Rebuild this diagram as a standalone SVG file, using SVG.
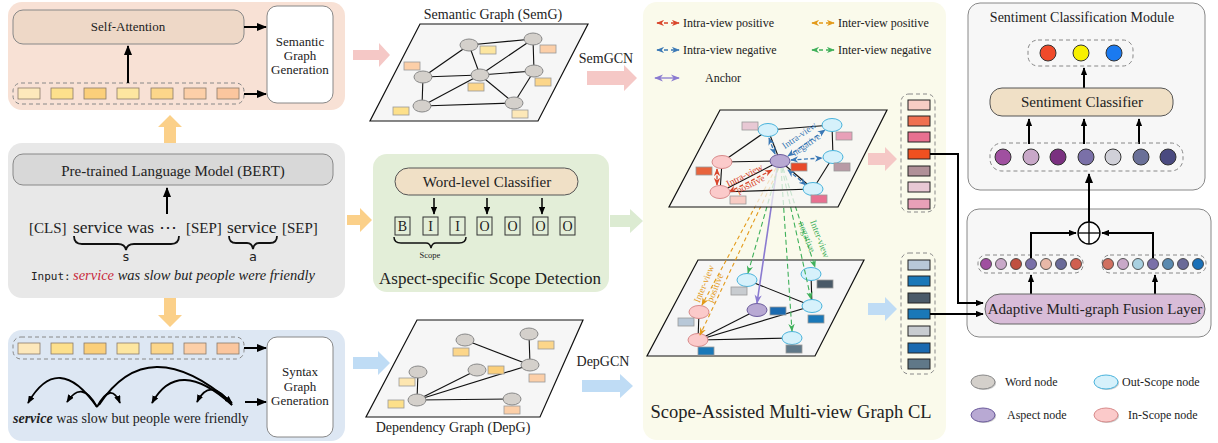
<svg xmlns="http://www.w3.org/2000/svg" width="1218" height="443" viewBox="0 0 1218 443">
<style>
text{font-family:"Liberation Serif","Times New Roman",serif;fill:#222}
.mono{font-family:"DejaVu Sans Mono","Liberation Mono",monospace}
.box{stroke:#888;stroke-width:1}
.tok{stroke:#8a7a6a;stroke-width:0.8}
.dash{fill:none;stroke:#888;stroke-width:1;stroke-dasharray:4 3}
.blk{stroke:#000;stroke-width:2;fill:none}
.edge{stroke:#111;stroke-width:1.1}
.wn{fill:#d4d0cb;stroke:#888;stroke-width:1}
.on{fill:#d6f1fb;stroke:#49b3dc;stroke-width:1}
.an{fill:#b8a9d3;stroke:#6b5b9c;stroke-width:1}
.in{fill:#fbcaca;stroke:#d88a8a;stroke-width:1}
.r{stroke:#999;stroke-width:0.8}
.vc{stroke:#222;stroke-width:1}
.plane{fill:#f6f6f6;stroke:#111;stroke-width:1.2}
</style>
<defs>
<marker id="ab" viewBox="0 0 10 8" refX="9" refY="4" markerWidth="10" markerHeight="8" markerUnits="userSpaceOnUse" orient="auto"><path d="M0,0 L10,4 L0,8 z" fill="#000"/></marker>
<marker id="abs" viewBox="0 0 10 8" refX="9" refY="4" markerWidth="8" markerHeight="6.5" markerUnits="userSpaceOnUse" orient="auto"><path d="M0,0 L10,4 L0,8 z" fill="#000"/></marker>
<marker id="mr" viewBox="0 0 10 8" refX="9" refY="4" markerWidth="8" markerHeight="7" markerUnits="userSpaceOnUse" orient="auto-start-reverse"><path d="M0,0 L10,4 L0,8 L3,4 z" fill="#d9452b"/></marker>
<marker id="mo" viewBox="0 0 10 8" refX="9" refY="4" markerWidth="8" markerHeight="7" markerUnits="userSpaceOnUse" orient="auto-start-reverse"><path d="M0,0 L10,4 L0,8 L3,4 z" fill="#e39a1a"/></marker>
<marker id="mb" viewBox="0 0 10 8" refX="9" refY="4" markerWidth="8" markerHeight="7" markerUnits="userSpaceOnUse" orient="auto-start-reverse"><path d="M0,0 L10,4 L0,8 L3,4 z" fill="#3a78b5"/></marker>
<marker id="mg" viewBox="0 0 10 8" refX="9" refY="4" markerWidth="8" markerHeight="7" markerUnits="userSpaceOnUse" orient="auto-start-reverse"><path d="M0,0 L10,4 L0,8 L3,4 z" fill="#3fb05a"/></marker>
<marker id="mp" viewBox="0 0 10 8" refX="9" refY="4" markerWidth="9" markerHeight="8" markerUnits="userSpaceOnUse" orient="auto-start-reverse"><path d="M0,0 L10,4 L0,8 L3,4 z" fill="#8a7ad0"/></marker>
</defs>

<!-- Panel 1: semantic -->
<g id="semantic-panel">
<rect x="8" y="2" width="337" height="108" rx="14" fill="#f8e1d5"/>
<rect x="13" y="10" width="231" height="34" rx="10" fill="#eed8c7" class="box"/>
<text x="128" y="31" font-size="13" text-anchor="middle">Self-Attention</text>
<rect x="267" y="6" width="66" height="97" rx="10" fill="#fff" class="box"/>
<text x="300" y="46" font-size="13" text-anchor="middle">Semantic</text>
<text x="300" y="60" font-size="13" text-anchor="middle">Graph</text>
<text x="300" y="74" font-size="13" text-anchor="middle">Generation</text>
<rect x="13" y="83" width="231" height="21" rx="8" class="dash"/>
<rect x="18" y="88" width="22" height="11" fill="#fde8bb" class="tok"/>
<rect x="51" y="88" width="22" height="11" fill="#fde08c" class="tok"/>
<rect x="84" y="88" width="22" height="11" fill="#fbcf7a" class="tok"/>
<rect x="117" y="88" width="22" height="11" fill="#fde6a0" class="tok"/>
<rect x="151" y="88" width="22" height="11" fill="#fcd68a" class="tok"/>
<rect x="184" y="88" width="22" height="11" fill="#fccfa8" class="tok"/>
<rect x="217" y="88" width="22" height="11" fill="#fbc69e" class="tok"/>
<line x1="128" y1="83" x2="128" y2="46" class="blk" marker-end="url(#ab)"/>
<line x1="244" y1="27" x2="266" y2="27" class="blk" marker-end="url(#ab)"/>
<line x1="244" y1="94" x2="266" y2="94" class="blk" marker-end="url(#ab)"/>
</g>

<!-- Panel 2: BERT -->
<g id="bert-panel">
<rect x="8" y="143" width="337" height="155" rx="14" fill="#e8e8e8"/>
<rect x="13" y="154" width="320" height="31" rx="10" fill="#d8d8d8" class="box"/>
<text x="173" y="176" font-size="15" text-anchor="middle">Pre-trained Language Model (BERT)</text>
<line x1="167" y1="214" x2="167" y2="188" class="blk" marker-end="url(#ab)"/>
<text x="29" y="233" font-size="15">[CLS]</text>
<text x="73" y="233" font-size="17.5">service was ⋯</text>
<text x="186" y="233" font-size="15">[SEP]</text>
<text x="227" y="233" font-size="17.5">service</text>
<text x="282" y="233" font-size="15">[SEP]</text>
<path d="M74,236 Q74,244 82,244 L118,244 Q125,244 126,250 Q127,244 134,244 L171,244 Q179,244 179,236" fill="none" stroke="#111" stroke-width="1.8"/>
<path d="M229,236 Q229,243 236,243 L247,243 Q252,243 253,249 Q254,243 259,243 L270,243 Q277,243 277,236" fill="none" stroke="#111" stroke-width="1.8"/>
<text x="126" y="261" font-size="13" text-anchor="middle" class="mono">s</text>
<text x="253" y="261" font-size="13" text-anchor="middle" class="mono">a</text>
<text x="31" y="280" font-size="11" class="mono">Input:</text>
<text x="73" y="280" font-size="14.5" font-style="italic"><tspan fill="#c8283c" style="fill:#c8283c">service</tspan> was slow but people were friendly</text>
</g>

<!-- Panel 3: syntax -->
<g id="syntax-panel">
<rect x="8" y="330" width="337" height="111" rx="14" fill="#dde7f3"/>
<rect x="13" y="337" width="231" height="22" rx="8" class="dash"/>
<rect x="18" y="343" width="22" height="11" fill="#fde8bb" class="tok"/>
<rect x="51" y="343" width="22" height="11" fill="#fde08c" class="tok"/>
<rect x="84" y="343" width="22" height="11" fill="#fbcf7a" class="tok"/>
<rect x="117" y="343" width="22" height="11" fill="#fde6a0" class="tok"/>
<rect x="151" y="343" width="22" height="11" fill="#fcd68a" class="tok"/>
<rect x="184" y="343" width="22" height="11" fill="#fccfa8" class="tok"/>
<rect x="217" y="343" width="22" height="11" fill="#fbc69e" class="tok"/>
<rect x="267" y="337" width="66" height="100" rx="10" fill="#fff" class="box"/>
<text x="300" y="376" font-size="13" text-anchor="middle">Syntax</text>
<text x="300" y="391" font-size="13" text-anchor="middle">Graph</text>
<text x="300" y="405" font-size="13" text-anchor="middle">Generation</text>
<line x1="244" y1="348" x2="266" y2="348" class="blk" marker-end="url(#ab)"/>
<line x1="245" y1="402" x2="266" y2="402" class="blk" marker-end="url(#ab)"/>
<text x="13" y="423" font-size="14"><tspan font-weight="bold" font-style="italic">service</tspan> was slow but people were friendly</text>
<g fill="none" stroke="#000" stroke-width="1.8">
<path d="M97,407 Q58,351 28,403" marker-end="url(#abs)"/>
<path d="M97,407 Q82,379 67,402" marker-end="url(#abs)"/>
<path d="M97,407 Q111,381 120,403" marker-end="url(#abs)"/>
<path d="M99,405 Q148,330 232,403" marker-end="url(#abs)"/>
<path d="M232,405 Q178,356 152,403" marker-end="url(#abs)"/>
<path d="M232,405 Q210,376 197,402" marker-end="url(#abs)"/>
</g>
</g>

<!-- Semantic graph -->
<g id="semantic-graph">
<text x="493" y="19" font-size="14" text-anchor="middle">Semantic Graph (SemG)</text>
<polygon points="420,24 588,24 538,121 370,121" class="plane"/>
<g class="edge">
<line x1="469" y1="45" x2="533" y2="39"/><line x1="469" y1="45" x2="423" y2="77"/><line x1="469" y1="45" x2="480" y2="75"/>
<line x1="533" y1="39" x2="480" y2="75"/><line x1="533" y1="39" x2="534" y2="71"/><line x1="423" y1="77" x2="480" y2="75"/>
<line x1="423" y1="77" x2="422" y2="106"/><line x1="480" y1="75" x2="534" y2="71"/><line x1="480" y1="75" x2="422" y2="106"/>
<line x1="480" y1="75" x2="514" y2="103"/><line x1="534" y1="71" x2="514" y2="103"/><line x1="422" y1="106" x2="514" y2="103"/>
</g>
<ellipse cx="469" cy="45" rx="9" ry="6" class="wn"/><ellipse cx="533" cy="39" rx="9" ry="6" class="wn"/>
<ellipse cx="423" cy="77" rx="9" ry="6" class="wn"/><ellipse cx="480" cy="75" rx="9" ry="6" class="wn"/>
<ellipse cx="534" cy="71" rx="9" ry="6" class="wn"/><ellipse cx="422" cy="106" rx="9" ry="6" class="wn"/>
<ellipse cx="514" cy="103" rx="9" ry="6" class="wn"/>
<rect x="480" y="46" width="16" height="8" fill="#fde6a0" class="r"/>
<rect x="540" y="45" width="16" height="8" fill="#fccfa8" class="r"/>
<rect x="404" y="62" width="16" height="8" fill="#fccfa8" class="r"/>
<rect x="535" y="78" width="16" height="8" fill="#fcd68a" class="r"/>
<rect x="468" y="83" width="16" height="8" fill="#fcd68a" class="r"/>
<rect x="393" y="107" width="16" height="8" fill="#fde08a" class="r"/>
<rect x="512" y="110" width="16" height="8" fill="#fde8b8" class="r"/>
<text x="606" y="63" font-size="14" text-anchor="middle">SemGCN</text>
</g>

<!-- Scope detection -->
<g id="scope-panel">
<rect x="373" y="154" width="236" height="138" rx="14" fill="#e3eed8"/>
<rect x="395" y="168" width="183" height="27" rx="13.5" fill="#f0e0c6" stroke="#555" stroke-width="1"/>
<text x="487" y="187" font-size="15" text-anchor="middle">Word-level Classifier</text>
<line x1="434" y1="198" x2="434" y2="214" stroke="#000" stroke-width="1.5" marker-end="url(#abs)"/>
<line x1="487" y1="198" x2="487" y2="214" stroke="#000" stroke-width="1.5" marker-end="url(#abs)"/>
<line x1="542" y1="198" x2="542" y2="214" stroke="#000" stroke-width="1.5" marker-end="url(#abs)"/>
<g fill="none" stroke="#333" stroke-width="1">
<rect x="395" y="217" width="15" height="18"/><rect x="423" y="217" width="15" height="18"/>
<rect x="450" y="217" width="15" height="18"/><rect x="477" y="217" width="15" height="18"/>
<rect x="505" y="217" width="15" height="18"/><rect x="533" y="217" width="15" height="18"/>
<rect x="560" y="217" width="15" height="18"/>
</g>
<g font-size="14" text-anchor="middle">
<text x="402.5" y="231">B</text><text x="430.5" y="231">I</text><text x="457.5" y="231">I</text>
<text x="484.5" y="231">O</text><text x="512.5" y="231">O</text><text x="540.5" y="231">O</text><text x="567.5" y="231">O</text>
</g>
<path d="M394,237 Q394,243 401,243 L426,243 Q430,243 431,248 Q432,243 436,243 L459,243 Q466,243 466,237" fill="none" stroke="#111" stroke-width="1.5"/>
<text x="430" y="258" font-size="8.5" text-anchor="middle">Scope</text>
<text x="490" y="284" font-size="17" text-anchor="middle">Aspect-specific Scope Detection</text>
</g>

<!-- Dependency graph -->
<g id="dependency-graph">
<polygon points="417,320 583,320 540,417 366,417" class="plane"/>
<g class="edge">
<line x1="465" y1="340" x2="530" y2="365"/><line x1="529" y1="334" x2="530" y2="365"/>
<line x1="418" y1="372" x2="417" y2="400"/><line x1="417" y1="400" x2="477" y2="370"/>
<line x1="417" y1="400" x2="530" y2="365"/><line x1="417" y1="400" x2="512" y2="399"/>
</g>
<ellipse cx="465" cy="340" rx="9" ry="6" class="wn"/><ellipse cx="529" cy="334" rx="9" ry="6" class="wn"/>
<ellipse cx="418" cy="372" rx="9" ry="6" class="wn"/><ellipse cx="477" cy="370" rx="9" ry="6" class="wn"/>
<ellipse cx="530" cy="365" rx="9" ry="6" class="wn"/><ellipse cx="417" cy="400" rx="9" ry="6" class="wn"/>
<ellipse cx="512" cy="399" rx="9" ry="6" class="wn"/>
<rect x="453" y="348" width="16" height="8" fill="#fcd68a" class="r"/>
<rect x="538" y="341" width="16" height="8" fill="#fcd68a" class="r"/>
<rect x="399" y="378" width="16" height="8" fill="#fde6b0" class="r"/>
<rect x="488" y="366" width="16" height="8" fill="#fbcf7a" class="r"/>
<rect x="529" y="374" width="16" height="8" fill="#fccfa8" class="r"/>
<rect x="388" y="400" width="16" height="8" fill="#fde08a" class="r"/>
<rect x="504" y="406" width="16" height="8" fill="#fccfa8" class="r"/>
<text x="453" y="432" font-size="14" text-anchor="middle">Dependency Graph (DepG)</text>
<text x="603" y="366" font-size="14" text-anchor="middle">DepGCN</text>
</g>

<!-- CL panel -->
<g id="cl-panel">
<rect x="643" y="2" width="303" height="438" rx="14" fill="#fafaeb"/>
<g font-size="12">
<line x1="657" y1="23" x2="679" y2="23" stroke="#d9452b" stroke-width="1.3" stroke-dasharray="4 3" marker-start="url(#mr)" marker-end="url(#mr)"/>
<text x="683" y="27">Intra-view positive</text>
<line x1="812" y1="23" x2="834" y2="23" stroke="#e39a1a" stroke-width="1.3" stroke-dasharray="4 3" marker-start="url(#mo)" marker-end="url(#mo)"/>
<text x="838" y="27">Inter-view positive</text>
<line x1="657" y1="50" x2="679" y2="50" stroke="#3a78b5" stroke-width="1.3" stroke-dasharray="4 3" marker-start="url(#mb)" marker-end="url(#mb)"/>
<text x="683" y="54">Intra-view negative</text>
<line x1="812" y1="50" x2="834" y2="50" stroke="#3fb05a" stroke-width="1.3" stroke-dasharray="4 3" marker-start="url(#mg)" marker-end="url(#mg)"/>
<text x="838" y="54">Inter-view negative</text>
<line x1="655" y1="78" x2="679" y2="78" stroke="#8a7ad0" stroke-width="1.3" marker-start="url(#mp)" marker-end="url(#mp)"/>
<text x="705" y="82">Anchor</text>
</g>

<!-- lower graph -->
<polygon points="698,260 864,260 815,356 647,356" class="plane"/>
<g class="edge">
<line x1="747" y1="280" x2="812" y2="306"/><line x1="811" y1="274" x2="812" y2="306"/>
<line x1="699" y1="312" x2="698" y2="340"/><line x1="698" y1="340" x2="757" y2="310"/>
<line x1="698" y1="340" x2="812" y2="306"/><line x1="698" y1="340" x2="792" y2="338"/>
</g>
<ellipse cx="747" cy="280" rx="10" ry="6.5" class="on"/><ellipse cx="811" cy="274" rx="10" ry="6.5" class="on"/>
<ellipse cx="812" cy="306" rx="10" ry="6.5" class="on"/><ellipse cx="792" cy="338" rx="10" ry="6.5" class="on"/>
<ellipse cx="757" cy="310" rx="10" ry="6.5" class="an"/>
<ellipse cx="699" cy="312" rx="10" ry="6.5" class="in"/><ellipse cx="698" cy="340" rx="10" ry="6.5" class="in"/>
<rect x="731" y="287" width="16" height="8" fill="#c8ccd0" class="r"/>
<rect x="817" y="280" width="16" height="8" fill="#4a5a68" class="r"/>
<rect x="770" y="307" width="16" height="8" fill="#1a6ab0" class="r"/>
<rect x="678" y="318" width="16" height="8" fill="#b8c8d8" class="r"/>
<rect x="808" y="315" width="16" height="8" fill="#1a78b8" class="r"/>
<rect x="698" y="347" width="16" height="8" fill="#1a78b8" class="r"/>
<rect x="786" y="345" width="16" height="8" fill="#607888" class="r"/>

<!-- inter-view connectors -->
<g fill="none" stroke-width="1.1">
<line x1="776" y1="168" x2="702" y2="305" stroke="#e39a1a" stroke-dasharray="4 3" marker-end="url(#mo)"/>
<line x1="779" y1="168" x2="700" y2="335" stroke="#e39a1a" stroke-dasharray="4 3" marker-end="url(#mo)"/>
<line x1="777" y1="168" x2="757" y2="303" stroke="#8a7ad0" stroke-width="1.6" marker-end="url(#mp)"/>
<line x1="778" y1="168" x2="748" y2="273" stroke="#3fb05a" stroke-dasharray="5 3" marker-end="url(#mg)"/>
<line x1="781" y1="168" x2="792" y2="331" stroke="#3fb05a" stroke-dasharray="5 3" marker-end="url(#mg)"/>
<line x1="782" y1="168" x2="811" y2="299" stroke="#3fb05a" stroke-dasharray="5 3" marker-end="url(#mg)"/>
<line x1="783" y1="168" x2="815" y2="267" stroke="#3fb05a" stroke-dasharray="5 3" marker-end="url(#mg)"/>
</g>
<text transform="translate(707,285) rotate(-68)" font-size="9.5" text-anchor="middle" style="fill:#e39a1a">Inter-view</text>
<text transform="translate(718,289) rotate(-68)" font-size="9.5" text-anchor="middle" style="fill:#e39a1a">positive</text>
<text transform="translate(817,240) rotate(69)" font-size="9.5" text-anchor="middle" style="fill:#3fb05a">Inter-view</text>
<text transform="translate(804,238) rotate(69)" font-size="9.5" text-anchor="middle" style="fill:#3fb05a">negative</text>

<!-- upper graph -->
<polygon points="720,110 887,110 838,207 669,207" fill="#f6f6f6" fill-opacity="0.75" stroke="#111" stroke-width="1.2"/>
<g class="edge">
<line x1="722" y1="162" x2="768" y2="130"/><line x1="768" y1="130" x2="832" y2="125"/>
<line x1="832" y1="125" x2="833" y2="157"/><line x1="833" y1="157" x2="813" y2="189"/>
<line x1="813" y1="189" x2="720" y2="192"/><line x1="720" y1="192" x2="722" y2="162"/>
<line x1="722" y1="162" x2="780" y2="161"/><line x1="780" y1="161" x2="768" y2="130"/>
<line x1="780" y1="161" x2="813" y2="189"/><line x1="780" y1="161" x2="720" y2="192"/>
</g>
<g fill="none" stroke-width="1.3" stroke-dasharray="4 2.5">
<line x1="717" y1="169" x2="717" y2="185" stroke="#d9452b" marker-start="url(#mr)" marker-end="url(#mr)"/>
<line x1="772" y1="170" x2="729" y2="192" stroke="#d9452b" marker-start="url(#mr)" marker-end="url(#mr)"/>
<line x1="775" y1="154" x2="769" y2="138" stroke="#3a78b5" marker-start="url(#mb)" marker-end="url(#mb)"/>
<line x1="788" y1="156" x2="825" y2="130" stroke="#3a78b5" marker-start="url(#mb)" marker-end="url(#mb)"/>
<line x1="791" y1="160" x2="822" y2="158" stroke="#3a78b5" marker-start="url(#mb)" marker-end="url(#mb)"/>
<line x1="788" y1="170" x2="806" y2="185" stroke="#3a78b5" marker-start="url(#mb)" marker-end="url(#mb)"/>
</g>
<ellipse cx="768" cy="130" rx="10" ry="6.5" class="on"/><ellipse cx="832" cy="125" rx="10" ry="6.5" class="on"/>
<ellipse cx="833" cy="157" rx="10" ry="6.5" class="on"/><ellipse cx="813" cy="189" rx="10" ry="6.5" class="on"/>
<ellipse cx="780" cy="161" rx="10" ry="6.5" class="an"/>
<ellipse cx="722" cy="162" rx="10" ry="6.5" class="in"/><ellipse cx="720" cy="192" rx="10" ry="6.5" class="in"/>
<rect x="742" y="122" width="16" height="8" fill="#e8c8d4" class="r"/>
<rect x="836" y="132" width="16" height="8" fill="#e8a0b8" class="r"/>
<rect x="696" y="167" width="16" height="8" fill="#e8643c" class="r"/>
<rect x="791" y="163" width="16" height="8" fill="#e84a2a" class="r"/>
<rect x="834" y="163" width="16" height="8" fill="#b89aa5" class="r"/>
<rect x="730" y="196" width="16" height="8" fill="#f8ccc4" class="r"/>
<rect x="811" y="195" width="16" height="8" fill="#e87090" class="r"/>
<text transform="translate(801,138) rotate(-35)" font-size="9.5" text-anchor="middle" style="fill:#3a78b5">Intra-view</text>
<text transform="translate(808,147) rotate(-35)" font-size="9.5" text-anchor="middle" style="fill:#3a78b5">negative</text>
<text transform="translate(746,178) rotate(-27)" font-size="9.5" text-anchor="middle" style="fill:#d9452b">Intra-view</text>
<text transform="translate(752,187) rotate(-27)" font-size="9.5" text-anchor="middle" style="fill:#d9452b">positive</text>

<!-- vector columns -->
<rect x="901" y="94" width="34" height="118" rx="8" class="dash"/>
<rect x="908" y="100" width="22" height="10" fill="#f8ccc4" class="vc"/>
<rect x="908" y="116" width="22" height="10" fill="#f07050" class="vc"/>
<rect x="908" y="132" width="22" height="10" fill="#e87090" class="vc"/>
<rect x="908" y="149" width="22" height="10" fill="#f05020" class="vc"/>
<rect x="908" y="166" width="22" height="10" fill="#b09098" class="vc"/>
<rect x="908" y="182" width="22" height="10" fill="#e8c8d4" class="vc"/>
<rect x="908" y="199" width="22" height="10" fill="#e8a0b8" class="vc"/>
<rect x="901" y="253" width="34" height="121" rx="8" class="dash"/>
<rect x="908" y="260" width="22" height="10" fill="#b8c8d8" class="vc"/>
<rect x="908" y="276" width="22" height="10" fill="#1a78b8" class="vc"/>
<rect x="908" y="293" width="22" height="10" fill="#4a5a68" class="vc"/>
<rect x="908" y="309" width="22" height="10" fill="#1a78b8" class="vc"/>
<rect x="908" y="326" width="22" height="10" fill="#c8ccd0" class="vc"/>
<rect x="908" y="343" width="22" height="10" fill="#1a6ab0" class="vc"/>
<rect x="908" y="359" width="22" height="10" fill="#607888" class="vc"/>
<text x="791" y="418" font-size="18.5" text-anchor="middle">Scope-Assisted Multi-view Graph CL</text>
</g>

<!-- Sentiment Classification Module -->
<g id="sentiment-module">
<rect x="968" y="3" width="237" height="187" rx="12" fill="#f7f7f7" stroke="#888" stroke-width="1"/>
<text x="1082" y="22" font-size="14" text-anchor="middle">Sentiment Classification Module</text>
<rect x="1028" y="40" width="105" height="26" rx="10" class="dash"/>
<circle cx="1048" cy="53" r="8" fill="#f04a2a" stroke="#333"/>
<circle cx="1081" cy="53" r="8" fill="#f8f000" stroke="#333"/>
<circle cx="1114" cy="53" r="8" fill="#1a7af0" stroke="#333"/>
<line x1="1084" y1="88" x2="1084" y2="68" class="blk" marker-end="url(#abs)"/>
<rect x="990" y="88" width="183" height="28" rx="12" fill="#f0e0c6" stroke="#555" stroke-width="1"/>
<text x="1082" y="107" font-size="15" text-anchor="middle">Sentiment Classifier</text>
<line x1="1029" y1="144" x2="1029" y2="119" class="blk" marker-end="url(#abs)"/>
<line x1="1084" y1="144" x2="1084" y2="119" class="blk" marker-end="url(#abs)"/>
<line x1="1139" y1="144" x2="1139" y2="119" class="blk" marker-end="url(#abs)"/>
<rect x="990" y="143" width="193" height="28" rx="12" class="dash"/>
<circle cx="1003" cy="157" r="8" fill="#a050a0" stroke="#333"/>
<circle cx="1031" cy="157" r="8" fill="#c8a8c8" stroke="#333"/>
<circle cx="1058" cy="157" r="8" fill="#7a3080" stroke="#333"/>
<circle cx="1086" cy="157" r="8" fill="#7a70a8" stroke="#333"/>
<circle cx="1113" cy="157" r="8" fill="#d0d0d8" stroke="#333"/>
<circle cx="1141" cy="157" r="8" fill="#6a7098" stroke="#333"/>
<circle cx="1168" cy="157" r="8" fill="#4a4a80" stroke="#333"/>
</g>

<!-- Fusion -->
<g id="fusion-module">
<rect x="967" y="209" width="244" height="128" rx="12" fill="#f7f7f7" stroke="#888" stroke-width="1"/>
<circle cx="1089" cy="233" r="11" fill="#fff" stroke="#000" stroke-width="1.3"/>
<line x1="1078" y1="233" x2="1100" y2="233" stroke="#000" stroke-width="1.3"/>
<line x1="1089" y1="222" x2="1089" y2="244" stroke="#000" stroke-width="1.3"/>
<rect x="978" y="255" width="105" height="18" rx="8" class="dash"/>
<g stroke="#333" stroke-width="0.8">
<circle cx="986" cy="264" r="5.5" fill="#a050a0"/><circle cx="1001" cy="264" r="5.5" fill="#c8a8c8"/>
<circle cx="1016" cy="264" r="5.5" fill="#c05040"/><circle cx="1031" cy="264" r="5.5" fill="#7a70a8"/>
<circle cx="1046" cy="264" r="5.5" fill="#e8b8a8"/><circle cx="1061" cy="264" r="5.5" fill="#6a6a98"/>
<circle cx="1076" cy="264" r="5.5" fill="#d06050"/>
</g>
<rect x="1102" y="255" width="104" height="18" rx="8" class="dash"/>
<g stroke="#333" stroke-width="0.8">
<circle cx="1108" cy="264" r="5.5" fill="#d07060"/><circle cx="1123" cy="264" r="5.5" fill="#c8a8c8"/>
<circle cx="1138" cy="264" r="5.5" fill="#a8d0e0"/><circle cx="1153" cy="264" r="5.5" fill="#7a70a8"/>
<circle cx="1168" cy="264" r="5.5" fill="#5a8ab0"/><circle cx="1183" cy="264" r="5.5" fill="#6a6a98"/>
<circle cx="1198" cy="264" r="5.5" fill="#1a70b8"/>
</g>
<polyline points="1031,258 1031,233 1076,233" class="blk" marker-end="url(#abs)"/>
<polyline points="1153,258 1153,233 1102,233" class="blk" marker-end="url(#abs)"/>
<line x1="1031" y1="294" x2="1031" y2="275" class="blk" marker-end="url(#abs)"/>
<line x1="1155" y1="294" x2="1155" y2="275" class="blk" marker-end="url(#abs)"/>
<rect x="985" y="294" width="220" height="30" rx="15" fill="#d8bcd8" stroke="#666" stroke-width="1"/>
<text x="1095" y="314" font-size="15" text-anchor="middle">Adaptive Multi-graph Fusion Layer</text>
</g>

<!-- Legend -->
<g id="legend">
<ellipse cx="984" cy="383" rx="12" ry="7" fill="#999" opacity="0.5"/>
<ellipse cx="983" cy="382" rx="12" ry="7" class="wn"/>
<text x="1005" y="386" font-size="12">Word node</text>
<ellipse cx="1107" cy="383" rx="12" ry="7" fill="#999" opacity="0.5"/>
<ellipse cx="1106" cy="382" rx="12" ry="7" class="on"/>
<text x="1122" y="386" font-size="12">Out-Scope node</text>
<ellipse cx="984" cy="416" rx="12" ry="7" fill="#999" opacity="0.5"/>
<ellipse cx="983" cy="415" rx="12" ry="7" class="an"/>
<text x="1007" y="419" font-size="12">Aspect node</text>
<ellipse cx="1107" cy="416" rx="12" ry="7" fill="#999" opacity="0.5"/>
<ellipse cx="1106" cy="415" rx="12" ry="7" class="in"/>
<text x="1128" y="419" font-size="12">In-Scope node</text>
</g>

<!-- Connectors between modules -->
<g id="connectors">
<polygon points="164,143 164,127 158,127 170,115 182,127 176,127 176,143" fill="#fbd089"/>
<polygon points="164,298 164,315 158,315 170,327 182,315 176,315 176,298" fill="#fbd089"/>
<polygon points="347,215 360,215 360,208 372,220 360,232 360,225 347,225" fill="#fbd089"/>
<polygon points="353,50 379,50 379,43 390,55 379,67 379,60 353,60" fill="#f5c8c6"/>
<polygon points="587,71 624,71 624,65 637,78 624,91 624,85 587,85" fill="#f5c8c6"/>
<polygon points="610,215 630,215 630,209 643,221 630,233 630,227 610,227" fill="#dcebd2"/>
<polygon points="353,357 378,357 378,351 390,363 378,375 378,369 353,369" fill="#bfdcf5"/>
<polygon points="582,380 620,380 620,374 633,386 620,398 620,392 582,392" fill="#bfdcf5"/>
<polygon points="868,153 885,153 885,147 897,159 885,171 885,165 868,165" fill="#f5c8c6"/>
<polygon points="868,303 885,303 885,297 897,309 885,321 885,315 868,315" fill="#bfdcf5"/>
<polyline points="930,154 958,154 958,303 983,303" class="blk" marker-end="url(#abs)"/>
<polyline points="930,314 983,314" class="blk" marker-end="url(#abs)"/>
<line x1="1089" y1="222" x2="1089" y2="174" class="blk" marker-end="url(#ab)"/>
</g>
</svg>
